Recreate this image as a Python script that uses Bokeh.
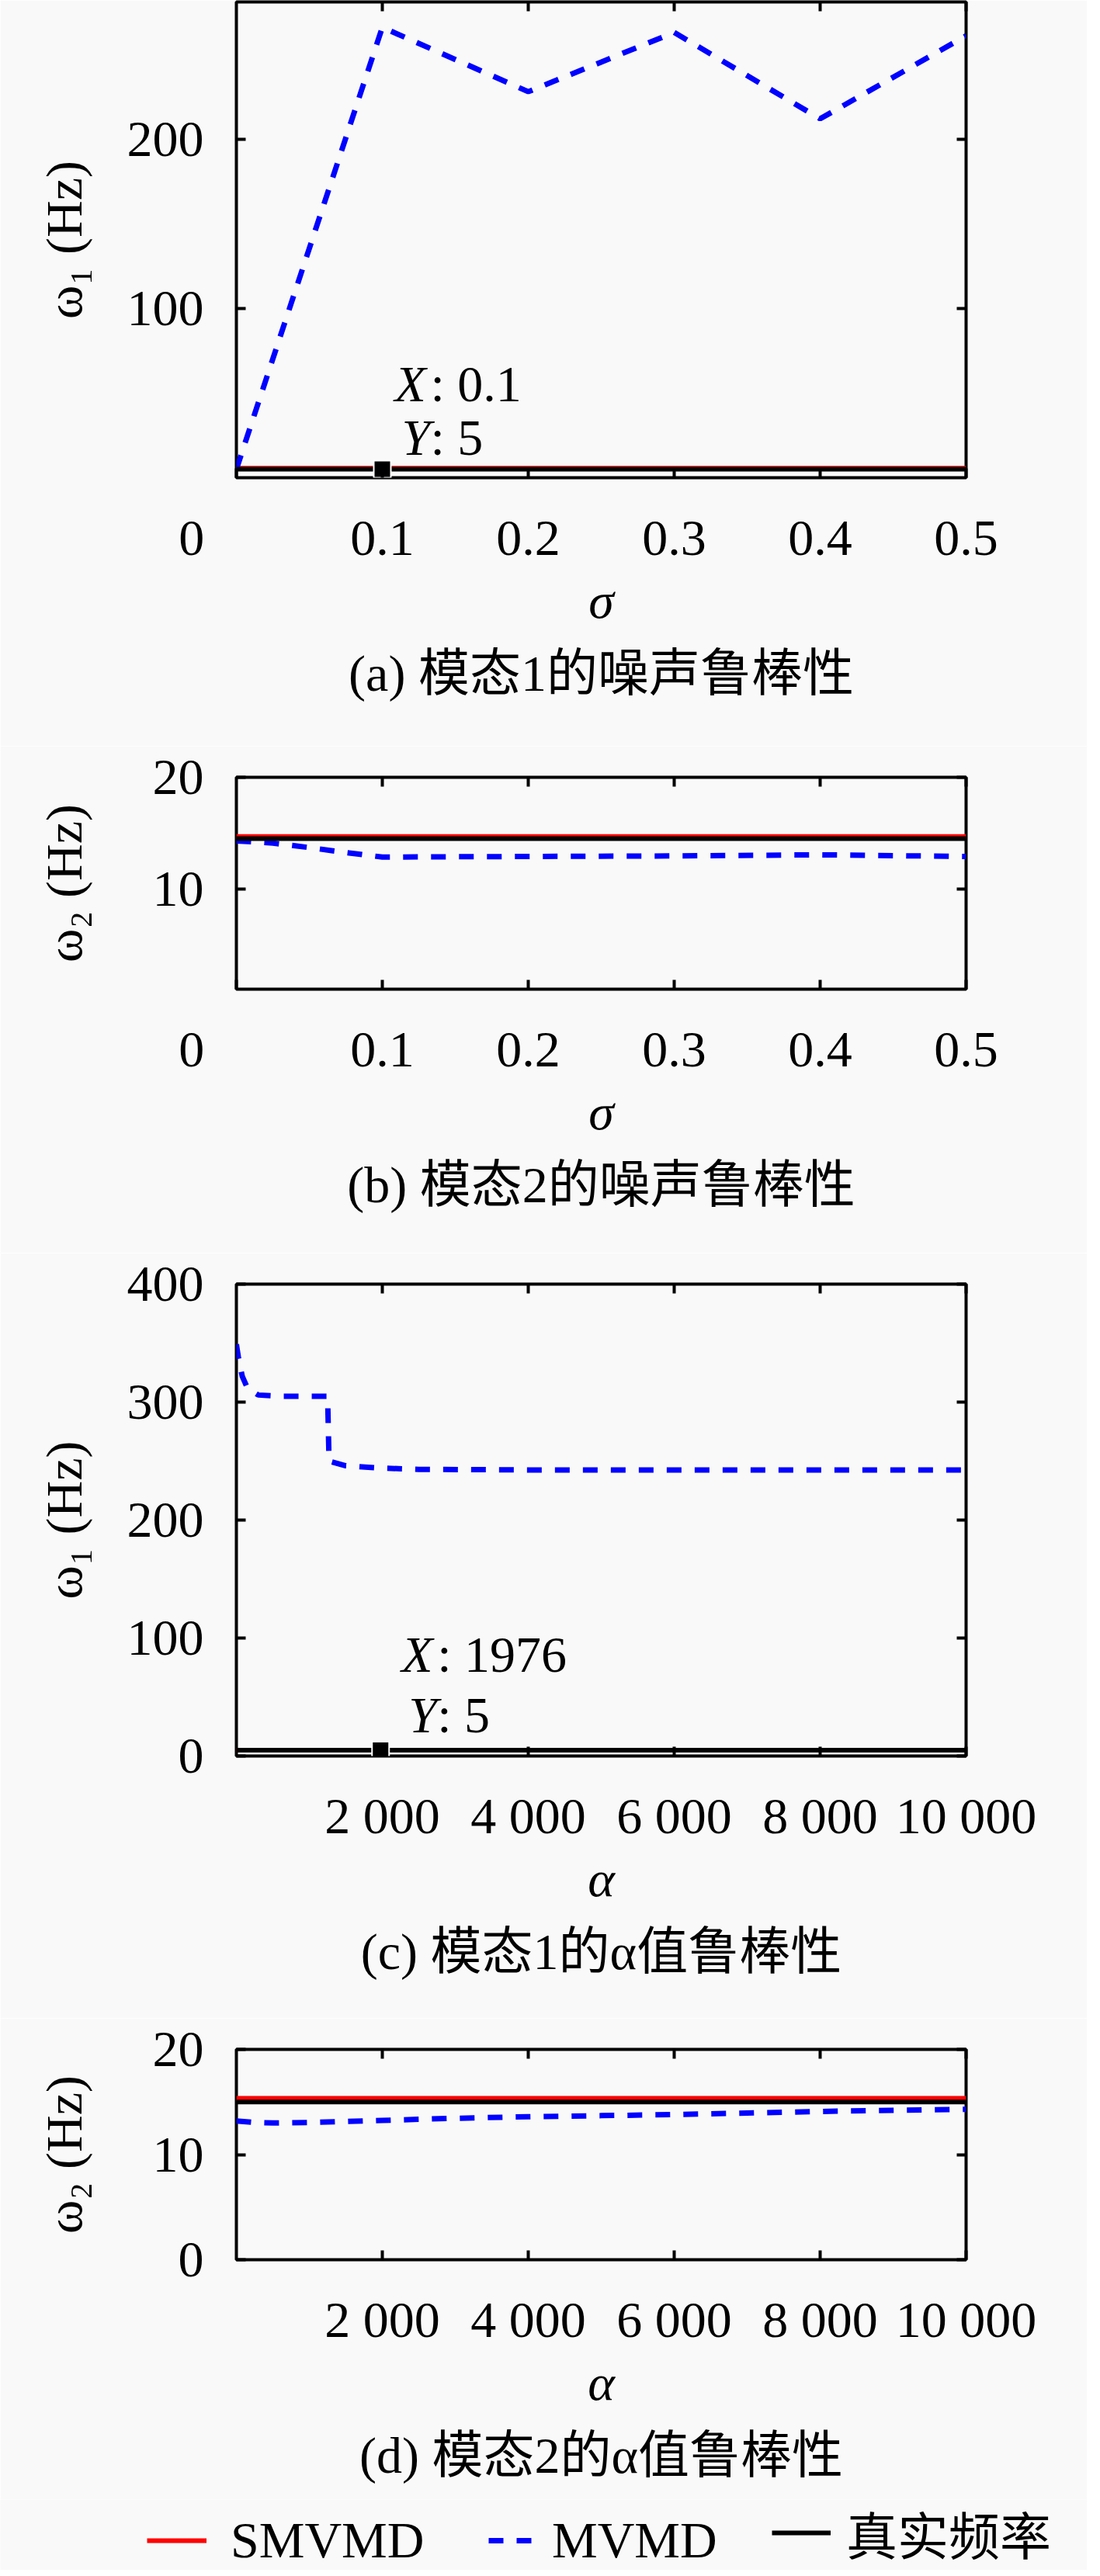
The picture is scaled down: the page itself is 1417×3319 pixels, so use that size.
from bokeh.plotting import figure
from bokeh.models import Range1d, FixedTicker, LinearAxis, Label, Title, Legend, LegendItem
from bokeh.layouts import column
from bokeh.embed import file_html
from bokeh.resources import INLINE

# ---------------- data ----------------
sigma = [0, 0.1, 0.2, 0.3, 0.4, 0.5]
mvmd_a = [5, 266, 228, 263, 212, 261]
smvmd_a = [5.6, 5.6, 5.6, 5.6, 5.6, 5.6]
true_a = [5, 5, 5, 5, 5, 5]
tip_a_x = [0.1]
tip_a_y = [5]

sigma_b = [0, 0.025, 0.05, 0.075, 0.1, 0.2, 0.3, 0.4, 0.5]
mvmd_b = [14.3, 14.1, 13.7, 13.25, 12.85, 12.9, 12.95, 13.05, 12.9]
smvmd_b = [14.7, 14.7, 14.7, 14.7, 14.7, 14.7]
true_b = [14.5, 14.5, 14.5, 14.5, 14.5, 14.5]

alpha_c = [0, 30, 80, 150, 300, 600, 1000, 1250, 1270, 1500, 2000, 2500, 4000, 6000, 8000, 10000]
mvmd_c = [349, 337, 322, 312, 306, 305, 305, 305, 250, 246, 244, 243, 242.5, 242.5, 242.5, 242.5]
alpha_grid = [0, 2000, 4000, 6000, 8000, 10000]
smvmd_c = [5, 5, 5, 5, 5, 5]
true_c = [5, 5, 5, 5, 5, 5]
tip_c_x = [1976]
tip_c_y = [5]

alpha_d = [0, 250, 500, 1000, 1500, 2000, 3000, 4000, 5000, 6000, 7000, 8000, 9000, 10000]
mvmd_d = [13.2, 13.05, 13.0, 13.05, 13.15, 13.25, 13.45, 13.6, 13.7, 13.8, 13.95, 14.1, 14.2, 14.3]
smvmd_d = [15.35, 15.35, 15.35, 15.35, 15.35, 15.35]
true_d = [15, 15, 15, 15, 15, 15]

sigma_ticks = [0, 0.1, 0.2, 0.3, 0.4, 0.5]
sigma_tick_labels = ["0", "0.1", "0.2", "0.3", "0.4", "0.5"]
alpha_ticks = [2000, 4000, 6000, 8000, 10000]
alpha_tick_labels = ["2 000", "4 000", "6 000", "8 000", "10 000"]

series_names = ["SMVMD", "MVMD", "真实频率"]
captions = ["(a) 模态1的噪声鲁棒性", "(b) 模态2的噪声鲁棒性",
            "(c) 模态1的α值鲁棒性", "(d) 模态2的α值鲁棒性"]

# ---------------- style ----------------
FONT = "Liberation Serif, Noto Sans CJK SC"
FS = "66px"
BG = "#f9f9f9"
RED = "#ff0000"
BLUE = "#0000ff"
DASH = "19 17"
W = 1400
NBSP = "\u00a0"


def style_axis(ax, ticks, overrides=None, show_labels=True, standoff=40):
    ax.ticker = FixedTicker(ticks=ticks)
    ax.axis_line_color = None
    ax.major_tick_in = 12
    ax.major_tick_out = 0
    ax.major_tick_line_width = 4
    ax.major_tick_line_color = "black"
    ax.minor_tick_line_color = None
    ax.minor_tick_in = 0
    ax.minor_tick_out = 0
    if show_labels:
        ax.major_label_text_font = FONT
        ax.major_label_text_font_size = FS
        ax.major_label_text_color = "black"
        ax.major_label_standoff = standoff
        if overrides:
            ax.major_label_overrides = overrides
    else:
        ax.major_label_text_font_size = "1px"
        ax.major_label_text_color = None
        ax.major_label_standoff = 0


def panel(height, top, bottom, xr, yr, xticks, xover, yticks, xlabel, ylabel,
          ylab_standoff, caption, mirror_xticks):
    p = figure(width=W, height=height, x_range=Range1d(*xr), y_range=Range1d(*yr),
               output_backend="svg", toolbar_location=None,
               min_border_left=304, min_border_right=156,
               min_border_top=top, min_border_bottom=bottom,
               background_fill_color=BG, border_fill_color=BG,
               outline_line_color="black", outline_line_width=4)
    p.grid.visible = False
    xa = p.xaxis[0]
    ya = p.yaxis[0]
    style_axis(xa, xticks, xover, True, 40)
    style_axis(ya, yticks, None, True, 42)
    for ax, lab, st, sty in ((xa, xlabel, 5, "italic"), (ya, ylabel, ylab_standoff, "normal")):
        ax.axis_label = lab
        ax.axis_label_text_font = FONT
        ax.axis_label_text_font_size = FS
        ax.axis_label_text_font_style = sty
        ax.axis_label_text_color = "black"
        ax.axis_label_standoff = st
    top_ax = LinearAxis()
    style_axis(top_ax, mirror_xticks, None, False)
    p.add_layout(top_ax, "above")
    right_ax = LinearAxis()
    style_axis(right_ax, yticks, None, False)
    p.add_layout(right_ax, "right")
    p.add_layout(Title(text=caption, align="center", text_font=FONT, text_font_size=FS,
                       text_font_style="normal", text_color="black", standoff=33), "below")
    return p


def draw(p, x_const, smvmd, xs, mvmd, true):
    r1 = p.line(x_const, smvmd, line_color=RED, line_width=6)
    r2 = p.line(xs, mvmd, line_color=BLUE, line_width=7, line_dash=DASH)
    r3 = p.line(x_const, true, line_color="black", line_width=6)
    return [r1, r2, r3]


def datatip(p, tx, ty, dx_letter_x, dx_letter_y, dx_val, dy1, dy2):
    p.scatter(tx, ty, marker="square", size=22, fill_color="black",
              line_color="white", line_width=2)
    for letter, dxl, dy, val in (("X", dx_letter_x, dy1, tx[0]), ("Y", dx_letter_y, dy2, ty[0])):
        p.add_layout(Label(x=tx[0], y=ty[0], x_offset=dxl, y_offset=dy, text=letter,
                           text_font=FONT, text_font_size=FS, text_font_style="italic",
                           text_align="left", text_baseline="middle", text_color="black"))
        p.add_layout(Label(x=tx[0], y=ty[0], x_offset=dx_val, y_offset=dy, text=": %s" % val,
                           text_font=FONT, text_font_size=FS, text_font_style="normal",
                           text_align="left", text_baseline="middle", text_color="black"))


# tick labels for sigma axis: the "0" label sits left of the frame edge in the
# reference, so it is padded on the right with no-break spaces
sigma_over = {t: s for t, s in zip(sigma_ticks, sigma_tick_labels)}
sigma_over[sigma_ticks[0]] = sigma_tick_labels[0] + NBSP * 7
alpha_over = {t: s for t, s in zip(alpha_ticks, alpha_tick_labels)}

# (a)
pa = panel(961, 2, 346, (0, 0.5), (0, 281), sigma_ticks, sigma_over, [100, 200],
           "σ", "ω₁ (Hz)", 42, captions[0], sigma_ticks[1:])
draw(pa, sigma, smvmd_a, sigma, mvmd_a, true_a)
datatip(pa, tip_a_x, tip_a_y, 16, 25, 62, 110, 41)

# (b)
pb = panel(653, 40, 340, (0, 0.5), (1, 20), sigma_ticks, sigma_over, [10, 20],
           "σ", "ω₂ (Hz)", 75, captions[1], sigma_ticks[1:])
draw(pb, sigma, smvmd_b, sigma_b, mvmd_b, true_b)

# (c)
pc = panel(986, 40, 338, (0, 10000), (0, 400), alpha_ticks, alpha_over,
           [0, 100, 200, 300, 400], "α", "ω₁ (Hz)", 42, captions[2], alpha_ticks)
draw(pc, alpha_grid, smvmd_c, alpha_c, mvmd_c, true_c)
datatip(pc, tip_c_x, tip_c_y, 27, 36, 73, 123, 45)

# (d)
pd_ = panel(620, 40, 309, (0, 10000), (0, 20), alpha_ticks, alpha_over,
            [0, 10, 20], "α", "ω₂ (Hz)", 75, captions[3], alpha_ticks)
draw(pd_, alpha_grid, smvmd_d, alpha_d, mvmd_d, true_d)

# legend strip (its renderers carry the (d) series but lie outside its view)
pl = figure(width=W, height=91, x_range=Range1d(-2, -1), y_range=Range1d(-2, -1),
            output_backend="svg", toolbar_location=None, min_border=0,
            min_border_left=0, min_border_right=0, min_border_top=0, min_border_bottom=0,
            x_axis_location=None, y_axis_location=None,
            outline_line_color=None, background_fill_color=BG, border_fill_color=BG)
frame_left = 304
try:
    pl.frame_align = False     # let the legend strip use the full width
    frame_left = 0
except Exception:
    pass
pl.grid.visible = False
rl = draw(pl, alpha_grid, smvmd_d, alpha_d, mvmd_d, true_d)
leg_page_x = [189, 629, 994]
leg_gw = [77, 59, 76]
leg_so = [31, 23, 20]
for name, r, lx, gw, so in zip(series_names, rl, leg_page_x, leg_gw, leg_so):
    pl.add_layout(Legend(items=[LegendItem(label=name, renderers=[r])],
                         orientation="horizontal", location=(lx - frame_left, 0),
                         glyph_width=gw, glyph_height=40, label_standoff=so,
                         padding=0, margin=0, border_line_color=None,
                         background_fill_alpha=0,
                         label_text_font=FONT, label_text_font_size=FS,
                         label_text_color="black"), "center")

layout = column(pa, pb, pc, pd_, pl, spacing=0)
open("out.html", "w").write(file_html(layout, INLINE))
